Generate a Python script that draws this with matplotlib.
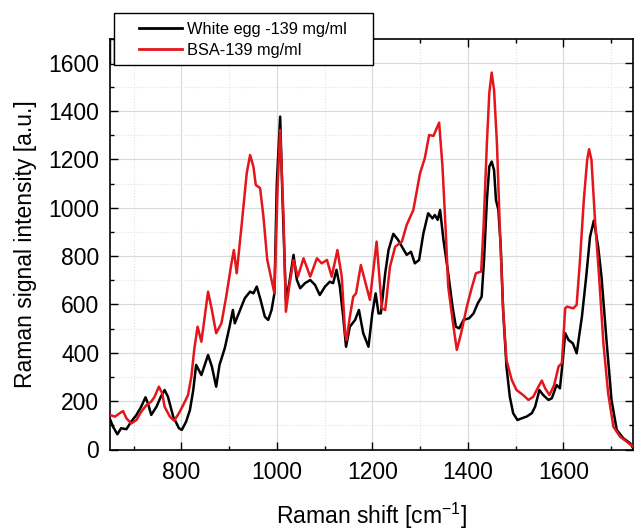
import matplotlib
matplotlib.use("Agg")
import matplotlib.pyplot as plt
from matplotlib.ticker import MultipleLocator
from matplotlib.patches import Rectangle
from matplotlib.lines import Line2D

plt.rcParams['font.family'] = ['Liberation Sans', 'DejaVu Sans']

egg_x = [650, 657, 666, 674, 685, 695, 706, 716, 725, 730, 737, 748, 757, 765, 772, 783, 795, 801, 810, 818,
         825, 831, 842, 856, 864, 873, 880, 891, 901, 908,
         912, 923, 933, 944, 951, 958, 966, 975, 982, 989, 995, 1000, 1007, 1012, 1019, 1026, 1035, 1042, 1049, 1059,
         1070, 1080, 1090, 1101, 1111, 1118, 1125, 1132, 1139, 1145, 1153, 1164, 1172,
         1181, 1192, 1200, 1207, 1213, 1218, 1227, 1234, 1244, 1254, 1262, 1272, 1281, 1289, 1298, 1307, 1317, 1326,
         1331, 1337, 1342, 1349, 1359, 1368, 1375, 1382, 1391, 1403, 1412, 1421, 1429,
         1434, 1440, 1445, 1450, 1455, 1459, 1464, 1469, 1474, 1481, 1488, 1495, 1504, 1513, 1523, 1534, 1541, 1550,
         1558, 1569, 1576, 1586, 1593, 1599, 1604, 1611, 1620, 1628, 1639, 1648, 1656, 1664, 1673, 1680, 1691, 1701,
         1712, 1726, 1740, 1746]
egg_y = [129, 94, 63, 88, 84, 115, 143, 177, 216, 191, 143, 177, 218, 246, 218, 136, 88, 81, 115, 163,
         246, 350, 308, 391, 343, 260, 350, 419, 508, 577,
         522, 577, 626, 653, 646, 674, 619, 549, 536, 577, 646, 1101, 1377, 1032, 619, 688, 805, 701, 667, 688,
         701, 681, 639, 674, 694, 688, 743, 674, 549, 425, 508, 536, 577,
         481, 425, 563, 646, 563, 563, 729, 825, 892, 867, 839, 805, 818, 770, 784, 894, 977, 956,
         970, 950, 991, 867, 729, 591, 508, 501, 536, 543, 563, 605, 632,
         784, 1032, 1170, 1191, 1156, 1032, 991, 839, 577, 343, 218, 150, 122, 129, 136, 150, 177, 246,
         225, 205, 212, 267, 253, 370, 481, 453, 439, 398, 549, 715, 880, 947, 839, 715, 439, 205,
         81, 46, 26, 6]

bsa_x = [650, 661, 671, 678, 685, 695, 706, 716, 727, 737, 744, 753, 760, 765, 776, 785, 795, 804, 814, 821,
         827, 834, 842, 849, 856, 864, 873, 884, 894, 905, 910,
         916, 926, 937, 944, 951, 956, 965, 972, 980, 989, 995, 1002, 1007, 1014, 1019, 1026, 1035, 1044, 1056, 1070,
         1084, 1094, 1105, 1115, 1127, 1136, 1143, 1146, 1153, 1160, 1166,
         1176, 1195, 1209, 1220, 1227, 1237, 1248, 1262, 1272, 1286, 1300, 1310, 1319, 1328, 1340, 1347, 1354, 1359,
         1370, 1377, 1386, 1398, 1408, 1417, 1428,
         1433, 1440, 1445, 1450, 1455, 1461, 1467, 1474, 1481, 1492, 1502, 1516, 1527, 1537, 1548, 1555, 1562, 1571,
         1581, 1590, 1597, 1604, 1608, 1621, 1628, 1635, 1643, 1650, 1654, 1659, 1666, 1675, 1684, 1694, 1705, 1719,
         1733, 1746]
bsa_y = [143, 136, 150, 159, 129, 108, 122, 156, 184, 198, 218, 260, 232, 177, 136, 119, 150, 184, 225, 301,
         412, 508, 446, 549, 653, 577, 481, 522, 632, 770, 825,
         729, 922, 1143, 1218, 1170, 1094, 1081, 963, 784, 701, 646, 1101, 1322, 963, 570, 674, 784, 715, 791, 715,
         791, 770, 784, 715, 825, 715, 481, 453, 549, 632, 646,
         763, 619, 860, 584, 577, 756, 839, 860, 929, 991, 1143, 1205, 1301, 1297, 1352, 1170, 894, 674,
         508, 412, 481, 591, 667, 729, 736,
         922, 1267, 1474, 1559, 1487, 1267, 922, 577, 370, 288, 246, 225, 205, 218, 260, 285, 253, 225,
         267, 343, 357, 584, 591, 584, 598, 784, 1032, 1198, 1242, 1198, 963, 715, 439, 232, 94, 53,
         32, 12]

x_ticks = [800, 1000, 1200, 1400, 1600]
y_ticks = [0, 200, 400, 600, 800, 1000, 1200, 1400, 1600]
labels = ['White egg -139 mg/ml', 'BSA-139 mg/ml']

W, H = 634, 531
fig = plt.figure(figsize=(W / 100, H / 100), dpi=100)
L, R, T, B = 109.7, 633.0, 39.0, 449.5
ax = fig.add_axes([L / W, (H - B) / H, (R - L) / W, (B - T) / H])

red = '#e3161b'
ax.plot(egg_x, egg_y, color='black', lw=1.8, zorder=3)
ax.plot(bsa_x, bsa_y, color=red, lw=1.8, zorder=4)

ax.set_xlim(650, 1746)
ax.set_ylim(0, 1698)
ax.set_xticks(x_ticks)
ax.set_yticks(y_ticks)
ax.xaxis.set_minor_locator(MultipleLocator(100))
ax.yaxis.set_minor_locator(MultipleLocator(100))
ax.tick_params(which='both', direction='in', top=True, right=True, width=1.0)
ax.tick_params(which='major', length=6, labelsize=16.5)
ax.tick_params(which='minor', length=3)
ax.tick_params(axis='x', which='major', pad=8.5)
ax.tick_params(axis='y', which='major', pad=7.5)
ax.grid(which='major', color='#d9d9d9', lw=0.8, ls='-')
ax.grid(which='minor', color='#e2e2e2', lw=0.8, ls=':')
ax.set_axisbelow(True)
for s in ax.spines.values():
    s.set_linewidth(1.2)

ax.set_xlabel('Raman shift [cm$^{\\mathregular{-1}}$]', fontsize=16.5, labelpad=12)
ax.set_ylabel('Raman signal intensity [a.u.]', fontsize=16.5, labelpad=8)

# legend frame(s)
fig.patches.append(Rectangle((109.7 / W, (H - 64) / H), 4.3 / W, 25 / H,
                             transform=fig.transFigure, fill=True, fc='white', ec='black', lw=1.0, zorder=5))
fig.patches.append(Rectangle((114 / W, (H - 65) / H), (373 - 114) / W, (65 - 13) / H,
                             transform=fig.transFigure, fill=True, fc='white', ec='black', lw=1.0, zorder=5))
handles = [Line2D([], [], color='black', lw=2), Line2D([], [], color=red, lw=2)]
leg = fig.legend(handles, labels, loc='upper left', bbox_to_anchor=(139 / W, 1 - 22 / H), fontsize=11.8,
                 frameon=False, handlelength=2.65, borderpad=0, labelspacing=0.35, handletextpad=0.25,
                 borderaxespad=0)
leg.set_zorder(6)

fig.savefig('out.png', dpi=100)
